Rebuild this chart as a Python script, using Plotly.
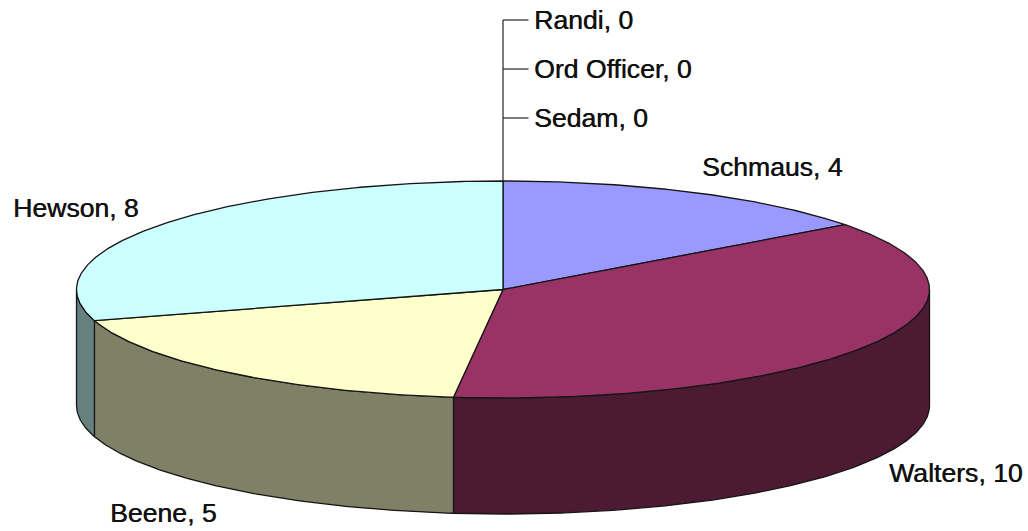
import numpy as np
import plotly.graph_objects as go

names = ["Randi", "Ord Officer", "Sedam", "Schmaus", "Walters", "Beene", "Hewson"]
values = [0, 0, 0, 4, 10, 5, 8]
top_colors = ["#FFFFFF", "#FFFFFF", "#FFFFFF", "#9999FF", "#993366", "#FFFFCC", "#CCFFFF"]
wall_colors = ["#808080", "#808080", "#808080", "#4D4D80", "#4D1A33", "#808066", "#668080"]

# Projection of the disc onto the page (pixels)
CX, CY, RX, RY, DEPTH = 503.0, 289.5, 426.5, 108.5, 116.0
W, H = 1028, 531
# Label anchors: x, y (centre of text), horizontal anchor
label_pos = {
    "Randi": (533.5, 20, "left"),
    "Ord Officer": (533.5, 69, "left"),
    "Sedam": (533.5, 118, "left"),
    "Schmaus": (701.5, 167, "left"),
    "Walters": (888.5, 473, "left"),
    "Beene": (109.5, 513, "left"),
    "Hewson": (12.5, 208, "left"),
}
LINE = "#151515"


def arc(a0, a1, dy=0.0):
    n = max(2, int(abs(a1 - a0) * 2) + 1)
    t = np.radians(np.linspace(a0, a1, n))
    return CX + RX * np.sin(t), CY - RY * np.cos(t) + dy


fig = go.Figure()


def poly(x, y, fill):
    fig.add_trace(go.Scatter(
        x=x, y=y, mode="lines", fill="toself", fillcolor=fill,
        line=dict(color=LINE, width=1.3), hoverinfo="skip", showlegend=False))


total = sum(values)
edges = np.cumsum([0] + values) / total * 360.0

# Side walls (front half only), then the top faces
for i in range(len(values)):
    a0, a1 = max(edges[i], 90.0), min(edges[i + 1], 270.0)
    if values[i] > 0 and a1 > a0:
        xt, yt = arc(a0, a1)
        xb, yb = arc(a0, a1, DEPTH)
        poly(np.r_[xt, xb[::-1], xt[0]], np.r_[yt, yb[::-1], yt[0]], wall_colors[i])

for i in range(len(values)):
    if values[i] > 0:
        xa, ya = arc(edges[i], edges[i + 1])
        poly(np.r_[CX, xa, CX], np.r_[CY, ya, CY], top_colors[i])

# Leader lines for the zero-valued slices
zero_names = [n for n, v in zip(names, values) if v == 0]
top_y = CY - RY
fig.add_trace(go.Scatter(
    x=[CX, CX], y=[top_y, min(label_pos[n][1] for n in zero_names)],
    mode="lines", line=dict(color="#333333", width=1.3),
    hoverinfo="skip", showlegend=False))
for n in zero_names:
    fig.add_trace(go.Scatter(
        x=[CX, label_pos[n][0] - 5], y=[label_pos[n][1]] * 2,
        mode="lines", line=dict(color="#333333", width=1.3),
        hoverinfo="skip", showlegend=False))

for n, v in zip(names, values):
    x, y, anchor = label_pos[n]
    fig.add_annotation(
        x=x, y=y, xref="x", yref="y", text=f"{n}, {v}", showarrow=False,
        xanchor=anchor, yanchor="middle", borderpad=0, borderwidth=0,
        font=dict(family="Liberation Sans", size=26.6, color="#111111",
                  shadow="0.5px 0 0 #222222"))

fig.update_xaxes(range=[0, W], visible=False, fixedrange=True)
fig.update_yaxes(range=[H, 0], visible=False, fixedrange=True)
fig.update_layout(
    width=W, height=H, margin=dict(l=0, r=0, t=0, b=0),
    paper_bgcolor="white", plot_bgcolor="white", showlegend=False)
fig.write_html("out.html", config={"displayModeBar": False},
               post_script="document.body.style.margin='0';document.body.style.overflow='hidden';")
